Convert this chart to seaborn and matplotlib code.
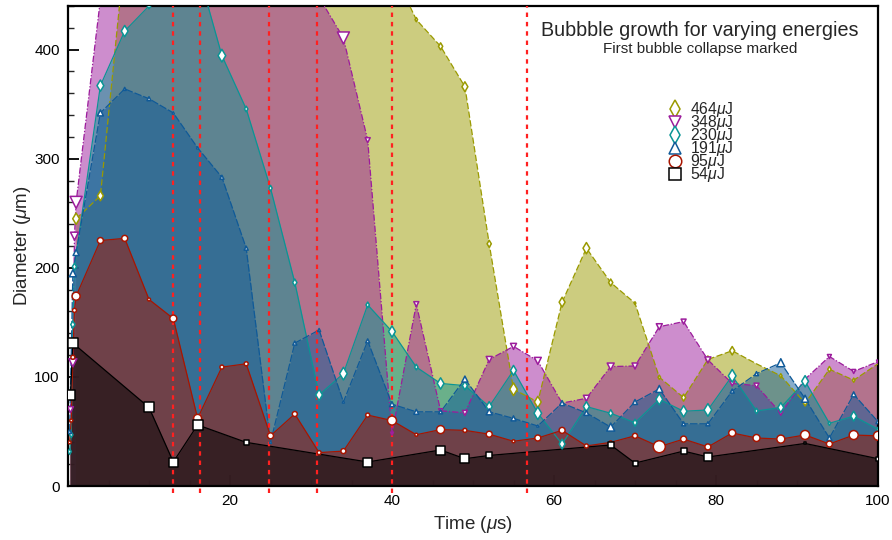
import numpy as np
import pandas as pd
import matplotlib
matplotlib.use("Agg")
import matplotlib.pyplot as plt
import seaborn as sns
from matplotlib.lines import Line2D
from matplotlib.ticker import MultipleLocator

# ---------------- data ----------------
labels = ["464", "348", "230", "191", "95", "54"]

t_464 = [1.0, 4, 7, 10, 13, 16, 19, 22, 25, 28, 31, 34, 37, 40, 43, 46, 49, 52, 55,
         58, 61, 64, 67, 70, 73, 76, 79, 82, 85, 88, 91, 94, 97, 100]
d_464 = [245, 266, 488, 560, 580, 580, 580, 580, 580, 580, 560, 540, 500, 474, 427.5,
         403, 366, 222, 88.7, 77, 168.5, 218, 186.5, 167.6, 99.7, 81, 116, 124, 112,
         101, 76, 107, 97, 112]

t_348 = [0.3, 0.6, 0.8, 1.0, 4, 7, 10, 13, 16, 19, 22, 25, 28, 31, 34, 37, 40, 43, 46,
         49, 52, 55, 58, 61, 64, 67, 70, 73, 76, 79, 82, 85, 88, 91, 94, 97, 100]
d_348 = [70, 113, 229, 260, 446, 520, 540, 540, 540, 540, 540, 530, 500, 448, 410.7,
         317, 48, 166.7, 69, 67, 116, 128, 114.7, 76, 80.4, 109.5, 110, 146, 150.7,
         115.6, 94, 92, 66.7, 98, 118.7, 105, 114]

t_230 = [0.2, 0.4, 0.6, 0.8, 4, 7, 10, 13, 16, 19, 22, 25, 28, 31, 34, 37, 40, 43, 46,
         49, 52, 55, 58, 61, 64, 67, 70, 73, 76, 79, 82, 85, 88, 91, 94, 97, 100]
d_230 = [31.5, 47, 148, 201, 367, 417, 440, 480, 474, 394.5, 345.6, 273, 186.5, 83.5,
         103, 166, 141.6, 109, 94, 92, 72.8, 106, 66.7, 38.5, 72.8, 66.7, 58, 79.5,
         68.5, 69.7, 101, 68.8, 71.9, 96, 57.5, 64, 52]

t_191 = [0.2, 0.6, 1.0, 4, 7, 10, 13, 16, 19, 22, 25, 28, 31, 34, 37, 40, 43, 46, 49,
         52, 55, 58, 61, 64, 67, 70, 73, 76, 79, 82, 85, 88, 91, 94, 97, 100]
d_191 = [50, 195, 214, 342, 364, 355, 342, 310, 283, 218, 40, 131, 143, 77, 133, 75,
         68, 68, 98, 68, 62, 55, 76, 67, 54, 77, 89, 57, 57, 87, 103, 113, 80, 44, 84, 59]

t_95 = [0.2, 0.4, 0.6, 0.8, 1.0, 4, 7, 10, 13, 16, 19, 22, 25, 28, 31, 34, 37, 40, 43,
        46, 49, 52, 55, 58, 61, 64, 67, 70, 73, 76, 79, 82, 85, 88, 91, 94, 97, 100]
d_95 = [40, 60, 118, 161, 174, 225, 227, 171, 153.5, 62, 109, 112, 46, 66, 30.6, 32,
        65, 60, 47, 51.7, 51, 47.5, 41, 44, 51, 36.7, 40, 46, 36, 43, 35.8, 48.6, 44,
        43, 46.8, 38.5, 46.7, 46]

t_54 = [0.3, 0.6, 10, 13, 16, 22, 37, 46, 49, 52, 67, 70, 76, 79, 91, 100]
d_54 = [83, 131, 72, 22, 56, 40, 22, 33, 25, 28, 37.6, 21, 32, 26.6, 39, 25]

collapse_times = [13.0, 16.3, 24.8, 30.7, 40.0, 56.7]

# marker sizes (pixels) -- styling
sz_464 = [8, 7, 0, 0, 0, 0, 0, 0, 0, 0, 0, 0, 0, 0, 3, 5, 7, 5, 9, 8, 7, 8, 5, 2, 3, 5,
          5, 6, 0, 3, 4, 4, 3, 0]
sz_348 = [6, 8, 8, 12, 0, 0, 0, 0, 0, 0, 0, 0, 0, 0, 12, 5, 3, 5, 4, 5, 6, 6, 7, 0, 6,
          7, 6, 6, 5, 6, 5, 5, 4, 0, 4, 4, 3]
sz_230 = [4, 4, 5, 5, 8, 8, 4, 0, 0, 9, 4, 4, 5, 8, 9, 4, 8, 4, 8, 6, 7, 7, 9, 7, 7, 5,
          5, 8, 8, 9, 9, 4, 7, 8, 3, 7, 3]
sz_191 = [4, 7, 6, 6, 3, 4, 2, 2, 4, 4, 2, 4, 3, 2, 4, 5, 5, 4, 6, 6, 5, 2, 5, 5, 8, 5,
          7, 4, 4, 4, 4, 8, 7, 5, 5, 4]
sz_95 = [3, 3, 4, 4, 8, 6, 6, 3, 7, 8, 4, 4, 6, 5, 4, 5, 4, 9, 3, 8, 4, 6, 3, 6, 6, 4,
         3, 5, 12, 6, 6, 7, 7, 8, 9, 6, 9, 9]
sz_54 = [10, 10, 10, 9, 10, 5, 9, 9, 9, 6, 6, 5, 6, 8, 2, 4]

series = [
    (labels[0], t_464, d_464, sz_464, "#9a9a00", "d", (0, (5, 2))),
    (labels[1], t_348, d_348, sz_348, "#9c1c9c", "v", (0, (5, 1.5, 1, 1.5))),
    (labels[2], t_230, d_230, sz_230, "#0a9595", "d", "-"),
    (labels[3], t_191, d_191, sz_191, "#105a98", "^", (0, (6, 1.5))),
    (labels[4], t_95, d_95, sz_95, "#a81500", "o", "-"),
    (labels[5], t_54, d_54, sz_54, "#000000", "s", "-"),
]

# ---------------- style ----------------
sns.set_style("ticks")
plt.rcParams["font.family"] = ["Liberation Sans", "DejaVu Sans"]
plt.rcParams["mathtext.fontset"] = "custom"
plt.rcParams["mathtext.rm"] = "Liberation Sans"
plt.rcParams["mathtext.it"] = "Liberation Sans:italic"

fig = plt.figure(figsize=(8.92, 5.40), dpi=100)
ax = fig.add_axes([68 / 892, 1 - 486 / 540, (878 - 68) / 892, (486 - 6) / 540])

# fills (back to front)
for i, (lab, t, d, sz, col, mk, ls) in enumerate(series):
    ax.fill_between(t, 0, d, color=col, alpha=0.5, linewidth=0, zorder=1 + i * 0.1)

# lines
for i, (lab, t, d, sz, col, mk, ls) in enumerate(series):
    df = pd.DataFrame({"t": t, "d": d})
    sns.lineplot(data=df, x="t", y="d", sort=False, estimator=None, color=col,
                 linestyle=ls, linewidth=0.9, ax=ax, zorder=3)

# collapse markers
for ct in collapse_times:
    ax.plot([ct, ct], [-6, 440], color="#ff2020", linestyle=(0, (2, 2.2)),
            linewidth=1.6, clip_on=False, zorder=4)

# markers
for i, (lab, t, d, sz, col, mk, ls) in enumerate(series):
    s = (np.array(sz, dtype=float) * 0.72) ** 2
    sns.scatterplot(x=t, y=d, s=s, marker=mk, facecolor="white", edgecolor=col,
                    linewidth=1.1, ax=ax, zorder=5, legend=False)

ax.set_xlim(0, 100)
ax.set_ylim(0, 440)
ax.set_xticks([20, 40, 60, 80, 100])
ax.xaxis.set_minor_locator(MultipleLocator(5))
ax.set_yticks([0, 100, 200, 300, 400])
ax.yaxis.set_minor_locator(MultipleLocator(20))
ax.tick_params(which="major", direction="in", length=8, width=1.3, labelsize=11,
               colors="black", pad=6)
ax.tick_params(which="minor", direction="in", length=4.5, width=1.0)
for sp in ax.spines.values():
    sp.set_linewidth(1.6)
    sp.set_color("black")
    sp.set_visible(True)

ax.set_xlabel(r"Time ($\mu$s)", fontsize=13.5, labelpad=4)
ax.set_ylabel(r"Diameter ($\mu$m)", fontsize=13.5, labelpad=1)

# title
fig.text(700 / 892, 1 - 30 / 540, "Bubbble growth for varying energies", ha="center",
         va="center", fontsize=14.2)
fig.text(700 / 892, 1 - 49 / 540, "First bubble collapse marked", ha="center",
         va="center", fontsize=11)

# legend
handles = []
for lab, t, d, sz, col, mk, ls in series:
    handles.append(Line2D([], [], linestyle="none", marker=mk, markersize=9,
                          markerfacecolor="white", markeredgecolor=col,
                          markeredgewidth=1.1))
leg = fig.legend(handles, [r"%s$\mu$J" % l for l in labels], loc="upper left",
                 bbox_to_anchor=(667 / 892, 1 - 100 / 540), frameon=False,
                 fontsize=11.3, handlelength=1.0, handletextpad=0.45,
                 labelspacing=-0.38, borderpad=0, borderaxespad=0)

fig.savefig("out.png", dpi=100)
